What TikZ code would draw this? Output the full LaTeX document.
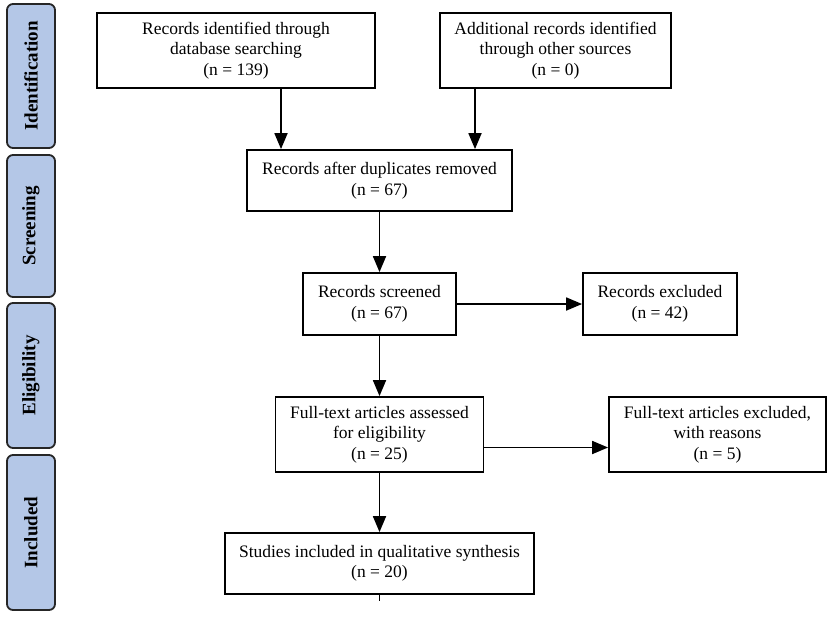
\documentclass[tikz,border=0pt]{standalone}
\usepackage{fontspec}
\setmainfont{Liberation Serif}
\usepackage{xcolor}
\usetikzlibrary{arrows, arrows.meta}
\definecolor{phaseblue}{RGB}{180,199,231}
\tikzset{
    record/.style={draw=black, line width=1.8pt, align=center, inner sep=0pt, font=\fontsize{17.5}{20.5}\selectfont},
    phase/.style={draw=black!85, fill=phaseblue, line width=1.8pt, rounded corners=6pt, minimum height=48pt, inner sep=0pt, rotate=90, font=\fontsize{19}{22}\selectfont\bfseries},
    flow/.style={black, line width=1.8pt, -{Triangle[length=16pt,width=13pt]}}
}

\begin{document}
\begin{tikzpicture}[x=1pt, y=1pt]
    \useasboundingbox (0,0) rectangle (829,-625);
    \node[phase, minimum width=144pt] (ident) at (31,-76) {Identification};
    \node[phase, minimum width=142pt] (screen) at (31,-226) {Screening};
    \node[phase, minimum width=145pt] (elig) at (31,-375.5) {Eligibility};
    \node[phase, minimum width=155pt] (incl) at (31,-532.5) {Included};
    \node[record, minimum width=278pt, minimum height=75pt] (dbrec) at (236,-50.5) {Records identified through\\database searching\\(n = 139)};
    \node[record, minimum width=231pt, minimum height=75pt] (otherrec) at (555.5,-50.5) {Additional records identified\\through other sources\\(n = 0)};
    \node[record, minimum width=265pt, minimum height=61pt] (dedup) at (379.5,-180.5) {Records after duplicates removed\\(n = 67)};
    \node[record, minimum width=153pt, minimum height=62pt] (screened) at (379.5,-304) {Records screened\\(n = 67)};
    \node[record, minimum width=154pt, minimum height=62pt] (excl) at (660,-304) {Records excluded\\(n = 42)};
    \node[record, minimum width=208pt, minimum height=75pt] (fulltext) at (379.5,-434.5) {Full-text articles assessed\\for eligibility\\(n = 25)};
    \node[record, minimum width=217pt, minimum height=75pt] (fullexcl) at (717.5,-434.5) {Full-text articles excluded,\\with reasons\\(n = 5)};
    \node[record, minimum width=309pt, minimum height=61pt] (qual) at (379.5,-563.5) {Studies included in qualitative synthesis\\(n = 20)};
    \draw[flow] ([xshift=45pt]dbrec.south) -- ([xshift=45pt]dbrec.south |- dedup.north);
    \draw[flow] ([xshift=-80.5pt]otherrec.south) -- ([xshift=-80.5pt]otherrec.south |- dedup.north);
    \draw[flow] (dedup) -- (screened);
    \draw[flow] (screened) -- (excl);
    \draw[flow] (screened) -- (fulltext);
    \draw[flow] ([yshift=-13pt]fulltext.east) -- ([yshift=-13pt]fullexcl.west);
    \draw[flow] (fulltext) -- (qual);
    \draw[black, line width=1.8pt] (qual.south) -- ++(0,-6);
\end{tikzpicture}
\end{document}
